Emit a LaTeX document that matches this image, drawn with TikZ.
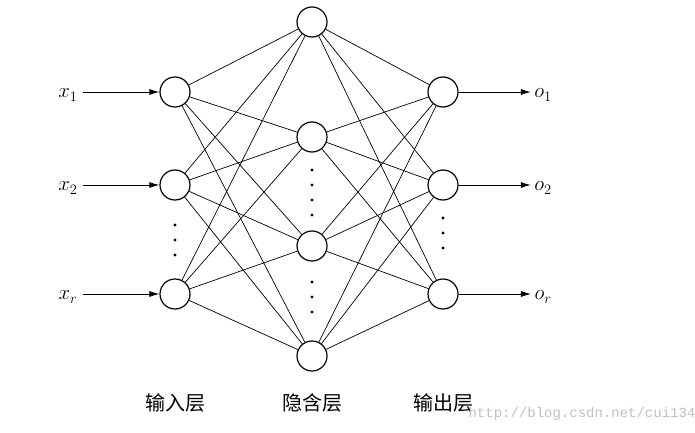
\documentclass[tikz,border=0pt]{standalone}
\usepackage{fontspec}
\newfontfamily\cjk{Noto Sans CJK SC}
\newfontfamily\mono{Liberation Mono}
\usetikzlibrary{arrows.meta}
\begin{document}
\begin{tikzpicture}[x=1pt,y=-1pt,
  neuron/.style={circle,draw,line width=1.2pt,minimum size=30pt,inner sep=0pt,fill=white},
  conn/.style={line width=0.7pt},
  arr/.style={line width=0.8pt,-{Latex[length=10pt,width=6pt]}},
  lab/.style={font=\fontsize{22}{22}\selectfont},
  cn/.style={font=\cjk\fontsize{20}{20}\selectfont}]
\useasboundingbox (0,0) rectangle (695,433);
\node[neuron] (i1) at (175,92) {};
\node[neuron] (i2) at (175,185) {};
\node[neuron] (ir) at (175,294) {};
\node[neuron] (h1) at (312,22) {};
\node[neuron] (h2) at (312,137) {};
\node[neuron] (h3) at (312,246) {};
\node[neuron] (h4) at (312,356) {};
\node[neuron] (o1) at (443,92) {};
\node[neuron] (o2) at (443,185) {};
\node[neuron] (or) at (443,294) {};
\foreach \a in {i1,i2,ir}{\foreach \b in {h1,h2,h3,h4}{\draw[conn] (\a) -- (\b);}}
\foreach \a in {o1,o2,or}{\foreach \b in {h1,h2,h3,h4}{\draw[conn] (\a) -- (\b);}}
\node[lab] (x1) at (68,95) {$x_1$};
\node[lab] (x2) at (68,188) {$x_2$};
\node[lab] (xr) at (68,297) {$x_r$};
\node[lab] (p1) at (543,95) {$o_1$};
\node[lab] (p2) at (543,188) {$o_2$};
\node[lab] (pr) at (543,297) {$o_r$};
\draw[arr] (x1.east) ++(2,-3) coordinate (a1) (a1) -- (i1.west);
\draw[arr] (x2.east) ++(2,-3) coordinate (a2) (a2) -- (i2.west);
\draw[arr] (xr.east) ++(2,-3) coordinate (a3) (a3) -- (ir.west);
\draw[arr] (o1.east) -- (p1.west |- o1);
\draw[arr] (o2.east) -- (p2.west |- o2);
\draw[arr] (or.east) -- (pr.west |- or);
\foreach \x/\y in {175/225,175/240,175/255,312/170,312/185,312/200,312/215,312/282,312/297,312/312,443/218,443/233,443/248}
  \fill (\x,\y) circle (1.6pt);
\node[cn] (t1) at (175,403) {输入层};
\node[cn] (t2) at (312,403) {隐含层};
\node[cn] (t3) at (443,403) {输出层};
\node[font=\mono\fontsize{14}{14}\selectfont,text=black!25] (w) at (582,414) {http://blog.csdn.net/cui134};
\end{tikzpicture}
\end{document}
